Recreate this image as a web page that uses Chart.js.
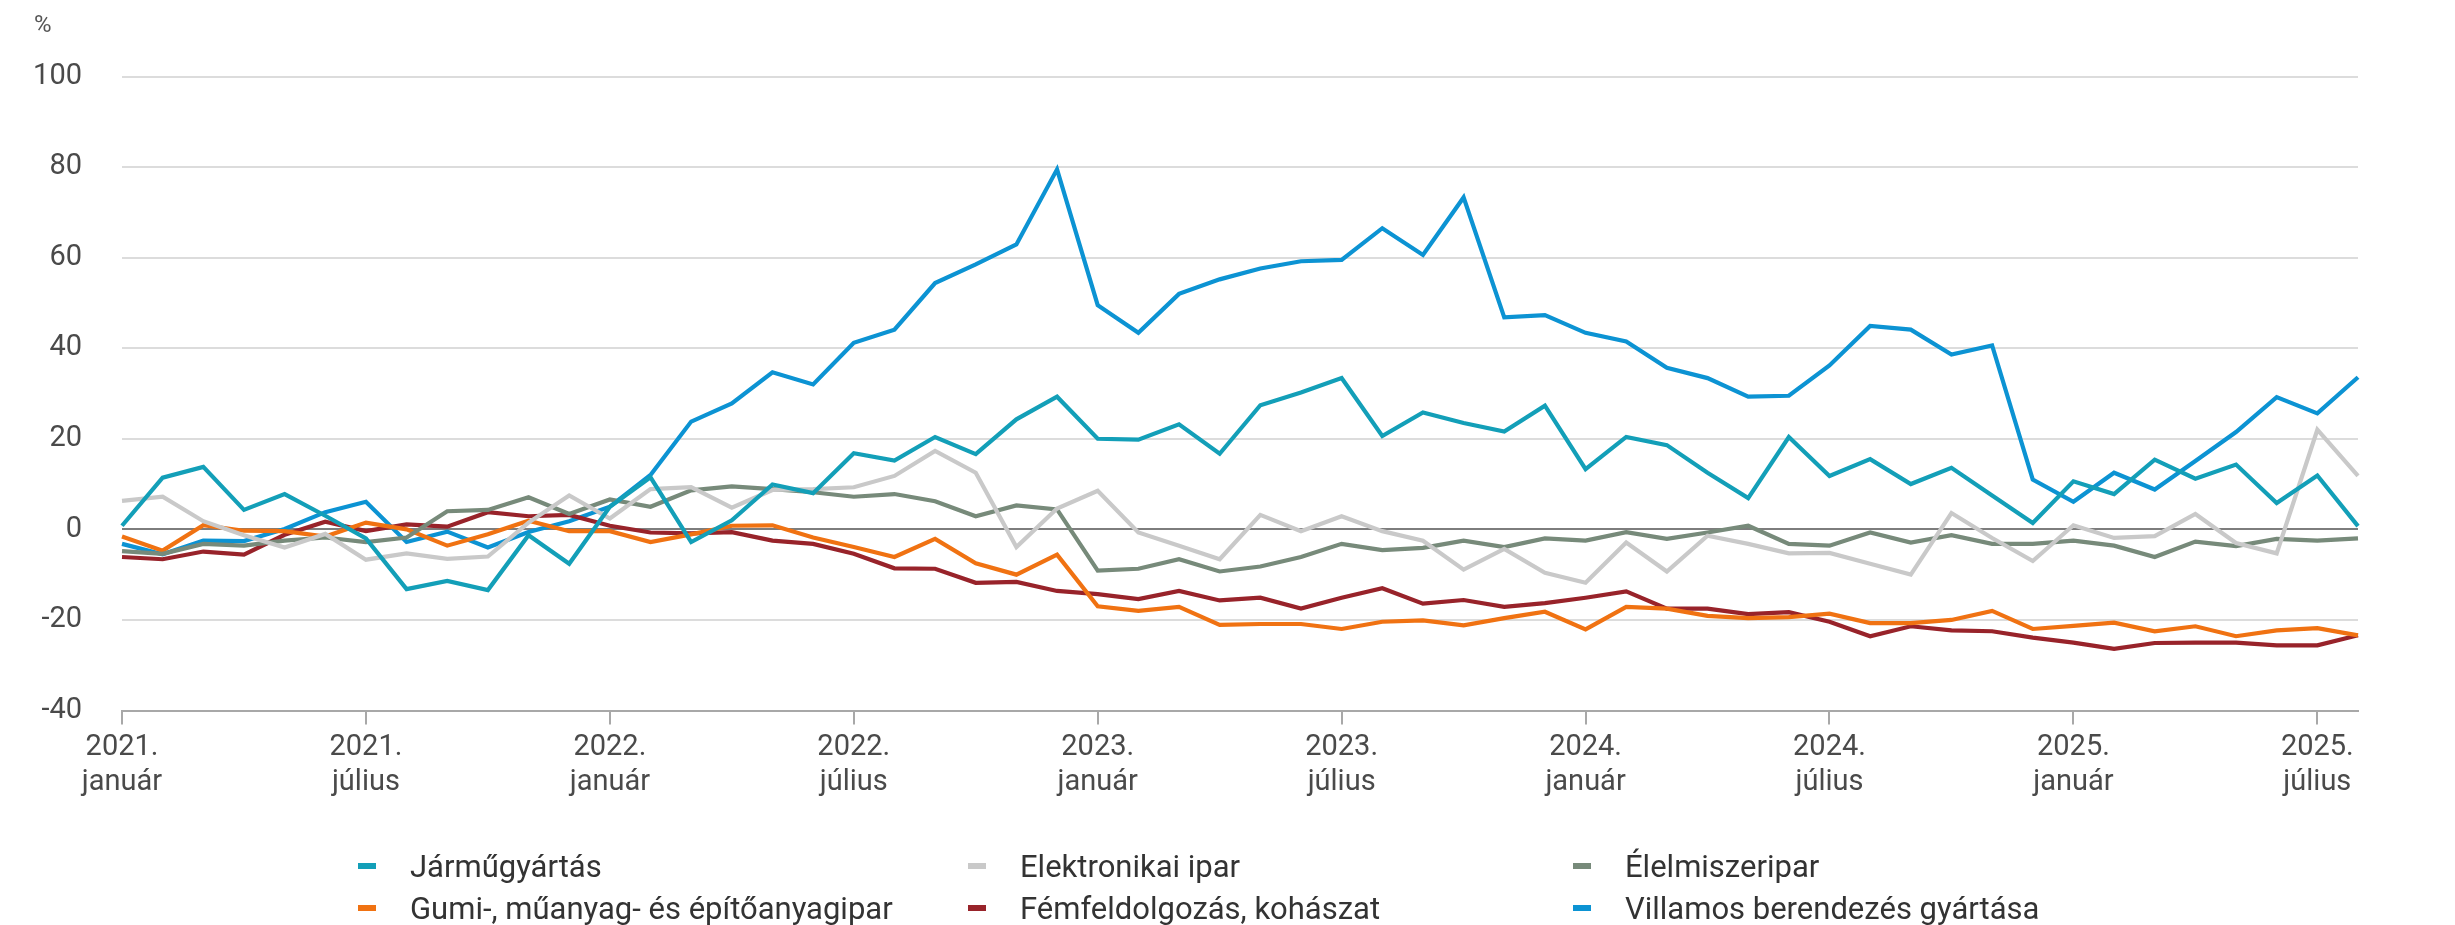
<!DOCTYPE html>
<html lang="hu">
<head>
<meta charset="utf-8">
<title>Ágazatok termelésének változása</title>
<script src="https://cdn.jsdelivr.net/npm/chart.js@4.4.1/dist/chart.umd.min.js"></script>
<style>
  html, body { margin: 0; padding: 0; background: #fff; }
  #wrap { position: relative; width: 2455px; height: 925px; font-family: Roboto, sans-serif; }
  #unit { position: absolute; left: 34px; top: 10px; font-size: 24px; color: #555; }
  #legend { position: absolute; left: 358px; top: 845px; display: grid;
            grid-template-columns: 610px 605px 600px; grid-auto-rows: 42px;
            font-size: 31px; color: #333; }
  .item { display: flex; align-items: center; white-space: nowrap; }
  .item .box { width: 18px; height: 6px; margin-right: 34px; flex: none; }
</style>
</head>
<body>
<div id="wrap">
  <canvas id="chart" width="2455" height="925"></canvas>
  <div id="unit">%</div>
  <div id="legend"></div>
</div>
<script>
const years = [2021, 2022, 2023, 2024, 2025];
const monthNames = ['január', 'február', 'március', 'április', 'május', 'június',
  'július', 'augusztus', 'szeptember', 'október', 'november', 'december'];
const lastMonth = 8; // 2025. augusztus

const labels = [];
years.forEach(y => monthNames.forEach((m, i) => {
  if (y < 2025 || i < lastMonth) labels.push(y + '. ' + m);
}));

const jarmugyartas = [0.8, 11.4, 13.8, 4.3, 7.8, 3, -2, -13.2, -11.4, -13.4, -1.3, -7.6,
  5, 11.5, -2.8, 2, 9.9, 8, 16.8, 15.2, 20.4, 16.6, 24.3, 29.3,
  20, 19.8, 23.2, 16.7, 27.4, 30.2, 33.4, 20.6, 25.8, 23.5, 21.6, 27.3,
  13.3, 20.4, 18.6, 12.5, 6.9, 20.4, 11.8, 15.5, 10, 13.6, 7.5, 1.4,
  10.6, 7.8, 15.4, 11.2, 14.3, 5.8, 11.9, 0.7];
const elektronika = [6.3, 7.2, 1.8, -1.3, -4, -1, -6.7, -5.3, -6.5, -6, 1.5, 7.5,
  2.4, 8.9, 9.3, 4.8, 8.7, 8.9, 9.3, 11.8, 17.3, 12.5, -3.9, 4.6,
  8.5, -0.7, -3.6, -6.6, 3.2, -0.4, 2.9, -0.4, -2.5, -8.9, -4.3, -9.6,
  -11.8, -2.9, -9.3, -1.4, -3.2, -5.3, -5.2, -7.6, -10, 3.6, -1.9, -7,
  0.9, -1.9, -1.5, 3.4, -3, -5.3, 22, 11.8];
const elelmiszer = [-4.8, -5.4, -3.2, -3.6, -2.5, -1.8, -2.8, -1.8, 4, 4.3, 7.1, 3.4,
  6.6, 5, 8.6, 9.5, 8.9, 8.2, 7.2, 7.8, 6.2, 2.9, 5.3, 4.4,
  -9.1, -8.7, -6.6, -9.3, -8.2, -6.1, -3.2, -4.6, -4.1, -2.5, -3.9, -2,
  -2.5, -0.6, -2.1, -0.7, 0.8, -3.2, -3.6, -0.7, -2.9, -1.3, -3.2, -3.2,
  -2.5, -3.6, -6.1, -2.7, -3.7, -2.1, -2.5, -2];
const gumi = [-1.6, -4.7, 0.9, -0.3, -0.4, -1.6, 1.5, 0, -3.6, -1.1, 1.9, -0.4,
  -0.4, -2.8, -1.1, 0.8, 0.9, -1.8, -3.9, -6.1, -2.1, -7.5, -10, -5.6,
  -17, -18, -17.1, -21.1, -20.9, -20.9, -22, -20.4, -20.1, -21.2, -19.6, -18.2,
  -22.1, -17.1, -17.5, -19.1, -19.6, -19.4, -18.6, -20.7, -20.7, -20, -18, -22,
  -21.3, -20.6, -22.5, -21.4, -23.6, -22.3, -21.8, -23.4];
const femfeldolgozas = [-6.1, -6.6, -4.9, -5.6, -1.2, 1.7, -0.4, 1.1, 0.6, 3.8, 2.9, 3.2,
  0.8, -0.7, -0.9, -0.6, -2.5, -3.2, -5.4, -8.6, -8.7, -11.8, -11.6, -13.6,
  -14.3, -15.4, -13.6, -15.7, -15.1, -17.5, -15.1, -13, -16.4, -15.6, -17.1, -16.3,
  -15.1, -13.7, -17.5, -17.5, -18.7, -18.3, -20.4, -23.6, -21.4, -22.3, -22.5, -23.9,
  -25, -26.4, -25.1, -25, -25, -25.6, -25.6, -23.4];
const villamos = [-3.2, -5.5, -2.5, -2.6, 0.1, 3.8, 6.1, -2.8, -0.5, -4, -0.6, 1.8,
  5, 12, 23.8, 27.8, 34.7, 32, 41.2, 44.1, 54.4, 58.5, 62.9, 79.5,
  49.5, 43.4, 52, 55.2, 57.6, 59.2, 59.5, 66.5, 60.6, 73.3, 46.8, 47.3,
  43.4, 41.5, 35.7, 33.4, 29.3, 29.5, 36.2, 44.9, 44.1, 38.6, 40.6, 11,
  6.1, 12.5, 8.8, 15.1, 21.5, 29.2, 25.6, 33.6];

const series = [
  { label: 'Járműgyártás', data: jarmugyartas, color: '#139fb8' },
  { label: 'Elektronikai ipar', data: elektronika, color: '#c9c9c9' },
  { label: 'Élelmiszeripar', data: elelmiszer, color: '#778a7a' },
  { label: 'Gumi-, műanyag- és építőanyagipar', data: gumi, color: '#f07212' },
  { label: 'Fémfeldolgozás, kohászat', data: femfeldolgozas, color: '#98232a' },
  { label: 'Villamos berendezés gyártása', data: villamos, color: '#0c93d3' }
];

const datasets = series.map(s => ({
  label: s.label,
  data: s.data,
  borderColor: s.color,
  backgroundColor: s.color,
  borderWidth: 4.2,
  pointRadius: 0,
  tension: 0,
  fill: false
}));

const yTicks = { min: -40, max: 100, step: 20 };

const chart = new Chart(document.getElementById('chart'), {
  type: 'line',
  data: { labels: labels, datasets: datasets },
  options: {
    responsive: false,
    animation: false,
    devicePixelRatio: 1,
    layout: { padding: { top: 76.5, right: 97, bottom: 0, left: 0 } },
    plugins: { legend: { display: false }, tooltip: { enabled: false } },
    scales: {
      x: {
        type: 'category',
        offset: false,
        afterFit: scale => { scale.height = 925 - 710.5; },
        border: { display: true, color: '#a8a8a8', width: 2 },
        grid: {
          drawOnChartArea: false,
          drawTicks: true,
          tickLength: 14,
          color: '#a8a8a8',
          lineWidth: 2
        },
        ticks: {
          autoSkip: false,
          maxRotation: 0,
          padding: 6,
          color: '#4a4a4a',
          font: { family: 'Roboto', size: 29, lineHeight: 1.2 },
          callback: function (val) {
            const parts = this.getLabelForValue(val).split(' ');
            return (parts[1] === 'január' || parts[1] === 'július') ? parts : null;
          }
        }
      },
      y: {
        min: yTicks.min,
        max: yTicks.max,
        afterFit: scale => { scale.width = 122; },
        border: { display: false },
        grid: {
          drawTicks: false,
          lineWidth: 2,
          color: ctx => {
            if (ctx.tick.value === 0) return '#7d7d7d';
            if (ctx.tick.value === yTicks.min) return 'rgba(0,0,0,0)';
            return '#dcdcdc';
          }
        },
        ticks: {
          stepSize: yTicks.step,
          padding: 40,
          color: '#4a4a4a',
          font: { family: 'Roboto', size: 29 }
        }
      }
    }
  }
});

// legend built from the chart datasets, three columns
const legend = document.getElementById('legend');
chart.data.datasets.forEach(ds => {
  const item = document.createElement('div');
  item.className = 'item';
  const box = document.createElement('span');
  box.className = 'box';
  box.style.background = ds.borderColor;
  item.appendChild(box);
  item.appendChild(document.createTextNode(ds.label));
  legend.appendChild(item);
});
</script>
</body>
</html>
